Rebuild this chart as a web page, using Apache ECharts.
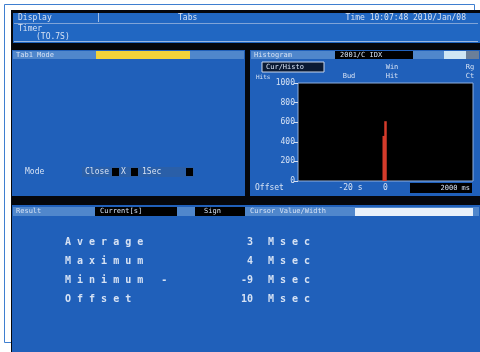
<!DOCTYPE html>
<html>
<head>
<meta charset="utf-8">
<script src="https://cdn.jsdelivr.net/npm/echarts@6/dist/echarts.min.js"></script>
<style>
  html, body { margin: 0; padding: 0; background: #fff; }
  #chart { width: 480px; height: 352px; }
</style>
</head>
<body>
<div id="chart"></div>
<script>
// histogram data
const binCenters = [-1, 0];
const binCounts = [460, 610];
const yMin = 0, yMax = 1000, yStep = 200;
const xMin = -50, xMax = 50, xStep = 10;
const xLabelsShown = { '-20': '-20 s', '0': '0' };

// result table
const resultLabels = ['Average', 'Maximum', 'Minimum -', 'Offset'];
const resultValues = ['3', '4', '-9', '10'];
const resultUnit = 'Msec';

const panelBlue = '#2060ba';
const stripBlue = '#5087cc';
const txt = '#d6e2f4';
const mono = 'DejaVu Sans Mono';

function spaced(s) { return s.split('').join(' '); }

let chart = echarts.init(document.getElementById('chart'));

let g = [];
function rect(x, y, w, h, fill, z, stroke) {
  g.push({ type: 'rect', z: z || -5, shape: { x: x, y: y, width: w, height: h },
    style: { fill: fill, stroke: stroke || null, lineWidth: stroke ? 1 : 0 } });
}
function text(x, y, s, opt) {
  opt = opt || {};
  g.push({ type: 'text', z: 20, x: x, y: y, style: {
    text: s, fill: opt.fill || txt, font: (opt.bold ? 'bold ' : '') + (opt.size || 8) + 'px ' + (opt.family || mono),
    textAlign: opt.align || 'left', textVerticalAlign: 'middle' } });
}
function line(x1, y1, x2, y2, c, z) {
  g.push({ type: 'line', z: z || -4, shape: { x1: x1, y1: y1, x2: x2, y2: y2 },
    style: { stroke: c, lineWidth: 1 } });
}

// paper border + screen frame
line(4.5, 4.5, 474.5, 4.5, '#3f7fd0', -9);
line(4.5, 4.5, 4.5, 342.5, '#3f7fd0', -9);
line(4.5, 342.5, 12, 342.5, '#3f7fd0', -9);
line(474.5, 4.5, 474.5, 12, '#3f7fd0', -9);
rect(11, 10, 469, 342, '#05070c', -8);

// header
rect(13, 13, 467, 30, '#2167c2', -6);
line(14, 23.5, 478, 23.5, '#7fa4d8');
line(14, 41.5, 478, 41.5, '#9ab8e2');
text(18, 18, 'Display');
text(96, 18, '|');
text(178, 18, 'Tabs');
text(466, 18, 'Time 10:07:48 2010/Jan/08', { align: 'right' });
text(18, 29, 'Timer');
text(36, 37, '(TO.7S)');

// left panel
rect(12, 50, 233, 146, panelBlue, -6);
rect(13, 51, 231, 8, stripBlue, -5);
rect(96, 51, 94, 8, '#f2d33a', -4);
text(16, 55, 'Tab1 Mode', { size: 7 });
text(25, 172, 'Mode', { size: 8 });
rect(82, 167, 112, 10, '#2a5fa8', -4);
text(85, 172, 'Close', { size: 8 });
rect(112, 168, 7, 8, '#000', -3);
text(121, 172, 'X', { size: 8 });
rect(131, 168, 7, 8, '#000', -3);
text(142, 172, '1Sec', { size: 8 });
rect(186, 168, 7, 8, '#000', -3);

// right panel
rect(250, 50, 230, 146, panelBlue, -6);
rect(251, 51, 228, 8, stripBlue, -5);
text(254, 55, 'Histogram', { size: 7 });
rect(335, 51, 78, 8, '#000', -4);
text(340, 55, '2001/C IDX', { size: 7 });
rect(444, 51, 22, 8, '#cfe6f4', -4);
rect(466, 51, 13, 8, '#6b7f99', -4);
rect(262, 62, 62, 10, '#0b1a33', -4, '#c9d7ee');
text(266, 67, 'Cur/Histo', { size: 7 });
text(349, 76, 'Bud', { size: 7, align: 'center' });
text(392, 67, 'Win', { size: 7, align: 'center' });
text(392, 76, 'Hit', { size: 7, align: 'center' });
text(470, 67, 'Rg', { size: 7, align: 'center' });
text(470, 76, 'Ct', { size: 7, align: 'center' });
text(256, 77, 'Hits', { size: 6 });
text(255, 188, 'Offset', { size: 8 });
rect(410, 183, 62, 10, '#000', -4);
text(470, 188, '2000 ms', { size: 7, align: 'right' });

// bottom panel
rect(12, 205, 468, 147, panelBlue, -6);
rect(13, 207, 466, 9, stripBlue, -5);
text(16, 211.5, 'Result', { size: 7 });
rect(95, 207, 82, 9, '#000', -4);
text(100, 211.5, 'Current[s]', { size: 7 });
rect(195, 207, 50, 9, '#000', -4);
text(204, 211.5, 'Sign', { size: 7 });
text(250, 211.5, 'Cursor Value/Width', { size: 7 });
rect(355, 208, 118, 8, '#e9f1fa', -4);

resultLabels.forEach((lab, i) => {
  let y = 242 + i * 19;
  text(65, y, spaced(lab), { size: 10, bold: true });
  text(253, y, resultValues[i], { size: 10, bold: true, align: 'right' });
  text(268, y, spaced(resultUnit), { size: 10, bold: true });
});

let option = {
  animation: false,
  backgroundColor: '#fff',
  grid: {
    left: 298, top: 83, width: 175, height: 98,
    show: true, backgroundColor: '#000', borderColor: '#8fb0e0', borderWidth: 1
  },
  xAxis: {
    type: 'value', min: xMin, max: xMax, interval: xStep,
    axisLine: { show: false, onZero: false }, axisTick: { show: false }, splitLine: { show: false },
    axisLabel: {
      color: txt, fontSize: 8, fontFamily: mono, margin: 3,
      formatter: v => xLabelsShown[String(v)] || ''
    }
  },
  yAxis: {
    type: 'value', min: yMin, max: yMax, interval: yStep,
    axisLine: { show: false, onZero: false }, splitLine: { show: false },
    axisTick: { show: true, length: 4, lineStyle: { color: txt } },
    axisLabel: { color: txt, fontSize: 8, fontFamily: mono, margin: 3, formatter: v => String(v) }
  },
  series: [{
    type: 'bar',
    barWidth: 2.5,
    itemStyle: { color: '#d43b2b' },
    data: binCenters.map((c, i) => [c, binCounts[i]])
  }],
  graphic: g
};

chart.setOption(option);
</script>
</body>
</html>
